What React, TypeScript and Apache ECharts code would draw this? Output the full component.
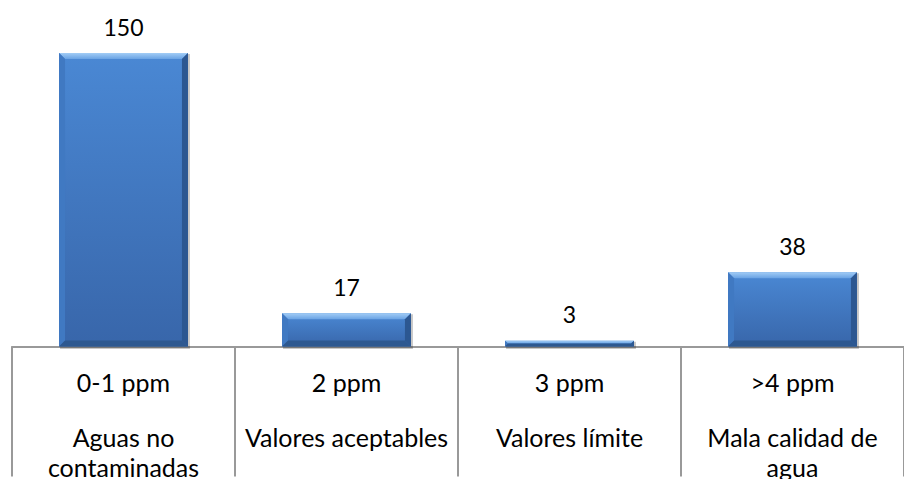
import React, { useEffect, useRef } from "react";
import * as echarts from "echarts";

// Concentration ranges, their meaning, and how many samples fell into each
const ranges = ["0-1 ppm", "2 ppm", "3 ppm", ">4 ppm"];
const descriptions = [
  "Aguas no\ncontaminadas",
  "Valores aceptables",
  "Valores límite",
  "Mala calidad de\nagua",
];
const counts = [150, 17, 3, 38];

const FONT = "Lato, 'Open Sans', sans-serif";
const LABEL_SIZE = 25;
const VALUE_SIZE = 23;
const LINE_COLOR = "#999999";

// Draws one bevelled bar (flat face plus four lit/shaded edge strips) and its value label
function renderBar(params: any, api: any) {
  const idx = api.value(0);
  const v = api.value(1);
  const top = api.coord([idx, v]);
  const base = api.coord([idx, 0]);
  const band = api.size([1, 0])[0];
  const w = band * 0.578;
  const x0 = top[0] - w / 2;
  const x1 = x0 + w;
  const y0 = top[1];
  const y1 = base[1];
  const h = y1 - y0;
  const b = Math.min(6, h / 2, w / 2);

  const face = new echarts.graphic.LinearGradient(0, 0, 0, 1, [
    { offset: 0, color: "#4a88d4" },
    { offset: 1, color: "#3866aa" },
  ]);

  return {
    type: "group",
    children: [
      {
        type: "rect",
        shape: { x: x0 + 1, y: y0 + 1, width: w + 1, height: h + 1.5 },
        style: { fill: "rgba(0,0,0,0.22)" },
      },
      {
        type: "rect",
        shape: { x: x0, y: y0, width: w, height: h },
        style: { fill: face },
      },
      {
        type: "polygon",
        shape: { points: [[x0, y0], [x1, y0], [x1 - b, y0 + b], [x0 + b, y0 + b]] },
        style: {
          fill: new echarts.graphic.LinearGradient(0, 0, 0, 1, [
            { offset: 0, color: "#a3cdf6" },
            { offset: 1, color: "#6aa3e4" },
          ]),
        },
      },
      {
        type: "polygon",
        shape: { points: [[x0, y0], [x0 + b, y0 + b], [x0 + b, y1 - b], [x0, y1]] },
        style: { fill: "#4079c2" },
      },
      {
        type: "polygon",
        shape: { points: [[x1, y0], [x1, y1], [x1 - b, y1 - b], [x1 - b, y0 + b]] },
        style: { fill: "#2c5791" },
      },
      {
        type: "polygon",
        shape: { points: [[x0, y1], [x0 + b, y1 - b], [x1 - b, y1 - b], [x1, y1]] },
        style: { fill: "#2d5890" },
      },
      {
        type: "text",
        style: {
          text: String(v),
          x: top[0],
          y: y0 - 26.5,
          align: "center",
          verticalAlign: "middle",
          fontSize: VALUE_SIZE,
          fontFamily: FONT,
          fill: "#000000",
        },
      },
    ],
  };
}

export default function App() {
  const ref = useRef<HTMLDivElement>(null);

  useEffect(() => {
    const chart = echarts.init(ref.current!, null, { renderer: "svg" });
    chart.setOption({
      animation: false,
      grid: { left: 12, right: -8, top: 53, bottom: 130 },
      xAxis: {
        type: "category",
        data: ranges,
        axisLine: { lineStyle: { color: LINE_COLOR, width: 2 } },
        axisTick: { show: true, length: 130, lineStyle: { color: LINE_COLOR, width: 2 } },
        axisLabel: {
          interval: 0,
          margin: 20,
          formatter: (value: string, index: number) => {
            const lines = descriptions[index].split("\n").map((l) => `{b|${l}}`);
            return [`{a|${value}}`, "{s| }", ...lines].join("\n");
          },
          rich: {
            a: { fontSize: LABEL_SIZE, fontFamily: FONT, color: "#000", lineHeight: 30 },
            s: { fontSize: 10, lineHeight: 25 },
            b: { fontSize: LABEL_SIZE, fontFamily: FONT, color: "#000", lineHeight: 30 },
          },
        },
      },
      yAxis: { type: "value", min: 0, max: 150, show: false },
      series: [
        {
          type: "custom",
          clip: false,
          encode: { x: 0, y: 1 },
          data: counts.map((c, i) => [i, c]),
          renderItem: renderBar,
        },
      ],
    });
    return () => chart.dispose();
  }, []);

  return (
    <div
      ref={ref}
      style={{ position: "fixed", left: 0, top: 0, width: 904, height: 479, background: "#fff" }}
    />
  );
}
